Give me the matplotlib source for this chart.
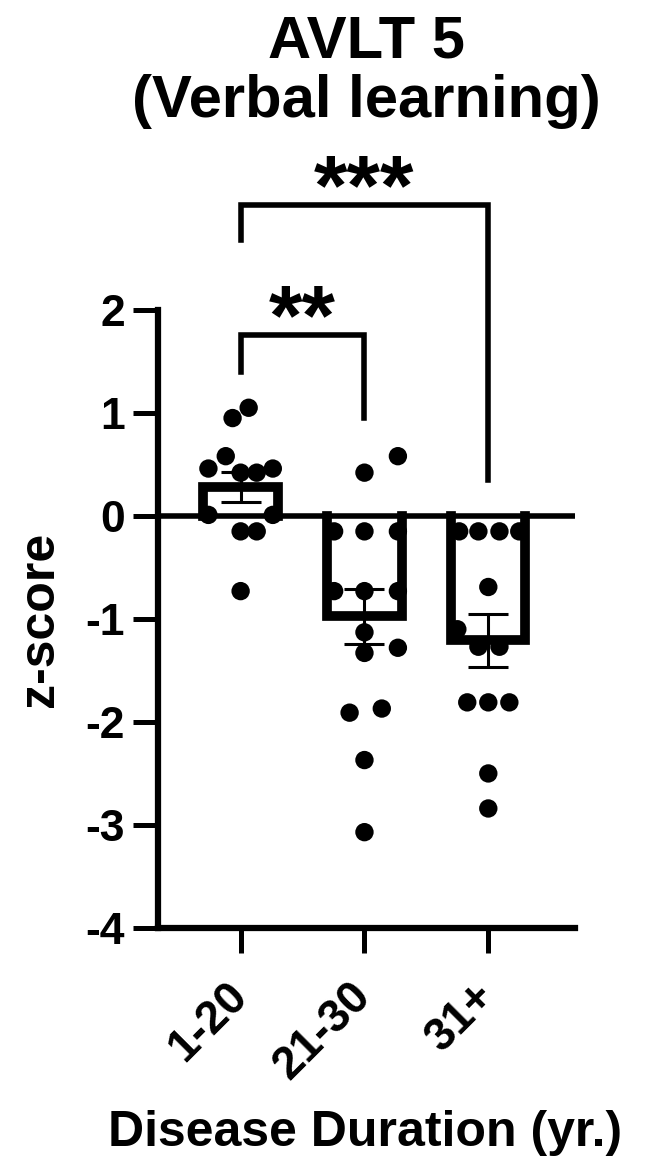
import matplotlib
matplotlib.use("Agg")
import matplotlib.pyplot as plt
import numpy as np

# group labels and individual z-scores
groups = ["1-20", "21-30", "31+"]

g1_vals = [1.05, 0.95, 0.58, 0.46, 0.42, 0.42, 0.46, 0.01, 0.01, -0.15, -0.15, -0.73]
g1_jit = [0.065, -0.065, -0.12, -0.26, 0.0, 0.13, 0.26, -0.26, 0.26, 0.0, 0.13, 0.0]

g2_vals = [0.58, 0.42, -0.15, -0.15, -0.15, -0.73, -0.73, -0.73,
           -1.13, -1.33, -1.28, -1.91, -1.87, -2.37, -3.07]
g2_jit = [0.27, 0.0, -0.245, 0.0, 0.27, -0.245, 0.0, 0.27,
          0.0, 0.0, 0.27, -0.12, 0.14, 0.0, 0.0]

g3_vals = [-0.15, -0.15, -0.15, -0.15, -0.69, -1.10, -1.27, -1.27,
           -1.81, -1.81, -1.81, -2.50, -2.84]
g3_jit = [-0.235, -0.08, 0.09, 0.25, 0.0, -0.25, -0.08, 0.09,
          -0.17, 0.0, 0.17, 0.0, 0.0]

# significance comparisons: (group a, group b, bracket height, leg bottoms, label)
comparisons = [(0, 1, 1.76, (1.40, 0.95), "**"),
               (0, 2, 3.02, (2.68, 0.35), "***")]

all_vals = [g1_vals, g2_vals, g3_vals]
all_jit = [g1_jit, g2_jit, g3_jit]

plt.rcParams['font.family'] = ['Liberation Sans', 'DejaVu Sans']
plt.rcParams['font.weight'] = 'bold'
plt.rcParams['axes.unicode_minus'] = False

fig = plt.figure(figsize=(6.5, 11.73), dpi=100)
ax = fig.add_axes([0.2431, 0.2089, 0.6415, 0.5269])

bar_w = 0.6
for i, vals in enumerate(all_vals):
    vals = np.array(vals)
    m = vals.mean()
    sem = vals.std(ddof=1) / np.sqrt(len(vals))
    # open bar outline (no edge along the baseline)
    ax.plot([i - bar_w / 2, i - bar_w / 2, i + bar_w / 2, i + bar_w / 2],
            [0, m, m, 0], color="black", lw=7, solid_joinstyle="miter",
            solid_capstyle="projecting", zorder=2)
    ax.errorbar(i, m, yerr=sem, color="black", lw=2.2, capsize=14.5,
                capthick=2.2, zorder=4)
    ax.scatter(i + np.array(all_jit[i]), vals, s=175, color="black",
               edgecolors="none", zorder=5)

# zero line
ax.axhline(0, color="black", lw=4, zorder=3)

# brackets for the comparisons
for a, b, h, legs, lab in comparisons:
    ax.plot([a, a, b, b], [legs[0], h, h, legs[1]], color="black", lw=4,
            solid_joinstyle="miter", clip_on=False)
    ax.text((a + b) / 2, h - 0.09, lab, ha="center", va="baseline",
            fontsize=62, fontweight="bold", clip_on=False)

ax.set_xlim(-0.667, 2.70)
ax.set_ylim(-4, 2)
ax.set_yticks([2, 1, 0, -1, -2, -3, -4])
ax.set_xticks(range(len(groups)))
ax.set_xticklabels(groups, rotation=45, ha="right", va="center",
                   rotation_mode="anchor", fontsize=33, fontweight="bold")
ax.tick_params(axis="y", labelsize=32, width=3.6, length=18, pad=6)
ax.tick_params(axis="x", width=3.6, length=18, pad=26)

for s in ["top", "right"]:
    ax.spines[s].set_visible(False)
for s in ["left", "bottom"]:
    ax.spines[s].set_linewidth(4.5)

ax.set_ylabel("z-score", fontsize=36, fontweight="bold", va="center")
ax.yaxis.set_label_coords(-0.283, 0.5)
ax.set_xlabel("Disease Duration (yr.)", fontsize=36, fontweight="bold", va="center")
ax.xaxis.set_label_coords(0.4976, -0.332)

fig.text(0.563, 1 - 14 / 1173, "AVLT 5\n(Verbal learning)", ha="center", va="top",
         fontsize=43, fontweight="bold", linespacing=1.12)

fig.savefig("out.png", dpi=100)
